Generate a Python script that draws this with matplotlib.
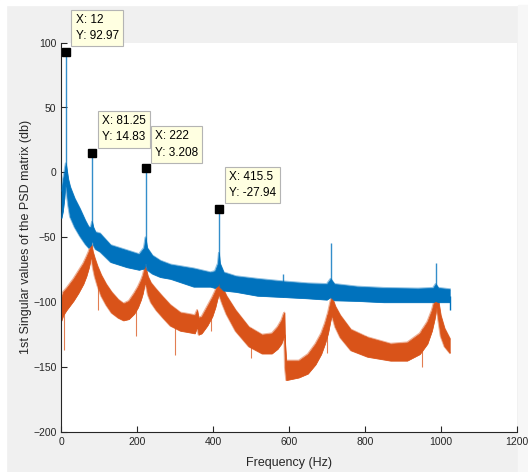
import numpy as np
import matplotlib
matplotlib.use("Agg")
import matplotlib.pyplot as plt
from matplotlib.patches import Rectangle

plt.rcParams['font.family'] = ['Liberation Sans', 'DejaVu Sans']

# 1st singular value: band edges (Hz, dB)
blue_f = [0.5, 4, 8, 10, 12, 14, 18, 23, 35, 49, 63, 72, 78, 81, 84, 90, 102, 130, 173, 205, 218, 222,
          226, 240, 261, 288, 349, 393, 405, 413, 415.5, 418, 428, 460, 517, 586, 650, 700, 710, 720,
          780, 850, 940, 980, 987, 994, 1024]
blue_upper = [-14, -6, 0, 4, 7, 3, -5, -11, -20, -28, -37, -42, -42, -38, -42, -46, -47, -56, -60, -63,
              -58, -50, -58, -64, -68, -71, -74, -77, -76, -70, -62, -70, -77, -80, -82, -84, -85.5,
              -86, -82, -86, -88, -89, -89.5, -89, -86, -89, -90]
blue_lower = [-35, -30, -20, -12, -8, -15, -25, -34, -42, -49, -55, -58, -56, -52, -56, -59, -61, -69,
              -73, -75, -74, -70, -75, -78, -80.6, -82, -88, -88, -89, -87, -84, -88, -91, -92, -95,
              -96, -97, -98, -96, -98.5, -99, -100, -100, -100, -99, -100, -100]

# 2nd singular value: band edges (Hz, dB)
orange_f = [0.5, 5, 14, 32, 45, 58, 66, 72, 76, 78, 80, 83, 88, 95, 105, 118, 132, 150, 164, 178, 192,
            202, 210, 215, 219, 221, 224, 228, 236, 250, 268, 287, 314, 334, 352, 358, 362, 370, 385,
            398, 406, 411, 415, 418, 424, 435, 459, 494, 529, 555, 570, 580, 586, 588, 589.5, 593,
            626, 650, 670, 685, 695, 703, 709, 713, 716, 722, 735, 763, 807, 868, 912, 945, 965, 977,
            984, 989, 993, 1000, 1010, 1024]
orange_upper = [-96, -92, -89, -82, -76, -70, -65, -61, -57, -54, -56, -61, -66, -72, -79, -86, -92, -98,
                -101, -99, -93, -88, -83, -79, -74, -72, -75, -80, -85, -90, -96, -102, -108, -109,
                -110, -106, -112, -111, -103, -96, -91, -86, -82, -84, -88, -95, -106, -119, -125,
                -124, -119, -114, -109, -108, -130, -145, -145, -140, -132, -124, -116, -108, -100,
                -95, -98, -103, -110, -121, -127, -132, -131, -124, -115, -106, -98, -90, -97, -110,
                -120, -128]
orange_lower = [-114, -110, -106, -99, -93, -86, -80, -74, -69, -65, -67, -73, -80, -87, -95, -102, -108,
                -112, -114, -113, -109, -104, -98, -93, -87, -85, -88, -94, -100, -106, -112, -118,
                -122, -123, -124, -119, -125, -124, -118, -111, -104, -98, -94, -96, -101, -109, -122,
                -134, -139.5, -139.5, -136, -132, -127, -125, -150, -160, -158, -155, -148, -140,
                -132, -124, -115, -110, -113, -119, -127, -137, -142, -145, -145, -140, -132, -122,
                -113, -104, -112, -126, -134, -139]

# sharp resonance lines on the 1st singular value
peak_f = [12, 81.25, 222, 415.5, 585, 710, 987]
peak_db = [92.97, 14.83, 3.208, -27.94, -78, -54.4, -69.5]

# narrow dips on the 2nd singular value
dip_f = [8, 98, 197, 300, 394, 499, 701, 802, 850, 900, 952]
dip_db = [-137, -106, -126, -141, -122, -143, -139, -132, -136, -134, -150]

# data tips
tip_f = [12, 81.25, 222, 415.5]
tip_db = [92.97, 14.83, 3.208, -27.94]
tip_x = ['12', '81.25', '222', '415.5']
tip_y = ['92.97', '14.83', '3.208', '-27.94']

blue = '#0072BD'
orange = '#D95319'

fig = plt.figure(figsize=(5.28, 4.72), dpi=100, facecolor='#f0f0f0')
fig.add_artist(Rectangle((0, 1 - 5 / 472), 1, 5 / 472, transform=fig.transFigure,
                         color='white', zorder=0))
fig.add_artist(Rectangle((0, 0), 6 / 528, 1, transform=fig.transFigure, color='white', zorder=0))
fig.add_artist(Rectangle((518 / 528, 0), 10 / 528, 1 - 5 / 472, transform=fig.transFigure,
                         color='#f7f7f7', zorder=0))

ax = fig.add_axes([61.3 / 528, 40 / 472, 455.2 / 528, 389.4 / 472])

# 1st singular value band, ragged edge and resonance lines
ax.fill_between(blue_f, blue_lower, blue_upper, color=blue, lw=0.5, zorder=3)
ax.plot(blue_f, blue_upper, color=blue, lw=1.4, alpha=0.45, zorder=3)
ax.plot(blue_f, blue_lower, color=blue, lw=1.4, alpha=0.45, zorder=3)
b_base = np.interp(peak_f, blue_f, blue_lower)
ax.vlines(peak_f, b_base, peak_db, color=blue, lw=1.0, alpha=0.8, zorder=3)
ax.vlines([1024], [-106], [-95], color=blue, lw=1.0, zorder=3)

# 2nd singular value band
ax.fill_between(orange_f, orange_lower, orange_upper, color=orange, lw=0.5, zorder=2)
ax.plot(orange_f, orange_upper, color=orange, lw=1.4, alpha=0.45, zorder=2)
ax.plot(orange_f, orange_lower, color=orange, lw=1.4, alpha=0.45, zorder=2)
o_base = np.interp(dip_f, orange_f, orange_upper)
ax.vlines(dip_f, o_base, dip_db, color=orange, lw=0.8, alpha=0.75, zorder=2)

ax.plot(tip_f, tip_db, 's', color='black', ms=5.5, zorder=5)
for f, db, tx, ty in zip(tip_f, tip_db, tip_x, tip_y):
    ax.annotate('X: %s\nY: %s' % (tx, ty), xy=(f, db), xytext=(7, 7), textcoords='offset points',
                ha='left', va='bottom', fontsize=8.5, color='black', linespacing=1.45,
                bbox=dict(boxstyle='square,pad=0.35', fc='#ffffe1', ec='#b4b4b4', lw=0.8), zorder=6)

ax.set_xlim(0, 1200)
ax.set_ylim(-200, 100)
ax.set_xticks(np.arange(0, 1201, 200))
ax.set_yticks(np.arange(-200, 101, 50))
ax.spines['top'].set_visible(False)
ax.spines['right'].set_visible(False)
for s in ['left', 'bottom']:
    ax.spines[s].set_color('#262626')
    ax.spines[s].set_linewidth(0.8)
ax.tick_params(direction='in', length=4, width=0.8, colors='#262626', labelsize=7.5)
ax.set_xlabel('Frequency (Hz)', fontsize=9, color='#262626', labelpad=7)
ax.set_ylabel('1st Singular values of the PSD matrix (db)', fontsize=9, color='#262626', labelpad=1)

fig.savefig('out.png', dpi=100, facecolor=fig.get_facecolor())
